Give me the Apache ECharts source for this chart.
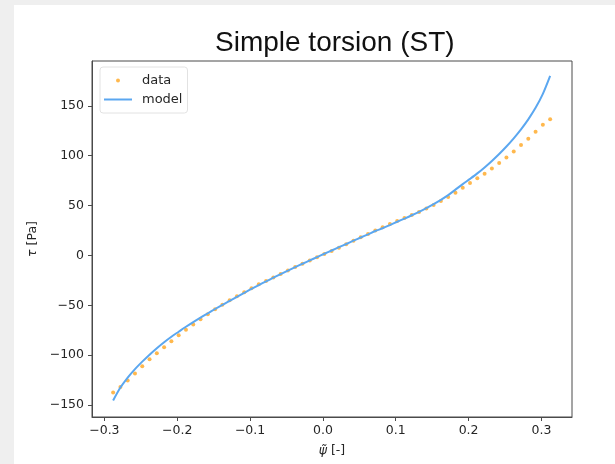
<!DOCTYPE html>
<html>
<head>
<meta charset="utf-8">
<script src="https://cdn.jsdelivr.net/npm/echarts@6/dist/echarts.min.js"></script>
<style>
  html, body { margin: 0; padding: 0; background: #efefef; }
  #chart { position: absolute; left: 14px; top: 5px; width: 601px; height: 459px; background: #fff; }
</style>
</head>
<body>
<div id="chart"></div>
<script>
// shear strain values (x)
var psiVals = [-0.288, -0.278, -0.268, -0.258, -0.248, -0.238, -0.228, -0.218, -0.208, -0.198,
  -0.188, -0.178, -0.168, -0.158, -0.148, -0.138, -0.128, -0.118, -0.108, -0.098,
  -0.088, -0.078, -0.068, -0.058, -0.048, -0.038, -0.028, -0.018, -0.008, 0.002,
  0.012, 0.022, 0.032, 0.042, 0.052, 0.062, 0.072, 0.082, 0.092, 0.102,
  0.112, 0.122, 0.132, 0.142, 0.152, 0.162, 0.172, 0.182, 0.192, 0.202,
  0.212, 0.222, 0.232, 0.242, 0.252, 0.262, 0.272, 0.282, 0.292, 0.302, 0.312];

// measured shear stress
var dataVals = [-137.5, -132, -125.5, -118.5, -111, -104, -98, -92, -86, -80,
  -74.5, -69.3, -64, -59, -54, -49.5, -45, -41, -37, -33,
  -29, -25.5, -22, -18.5, -15, -11.5, -8.3, -5, -1.8, 1.5,
  4.5, 7.8, 11.3, 14.8, 18.3, 21.6, 25, 28.3, 31.5, 34.5,
  37.5, 40.5, 43.5, 47, 50.5, 54.5, 58.5, 63, 68, 72.7,
  77.3, 82, 87.3, 92.7, 98.3, 104.3, 110.7, 117, 124, 131, 136.5];

// model curve
var modelVals = [-145.5, -132.5, -122.5, -114, -106.5, -99.5, -93, -87, -81.5, -76.5,
  -71.5, -66.8, -62.3, -58, -53.7, -49.5, -45.5, -41.5, -37.5, -33.5,
  -29.7, -26, -22.3, -18.7, -15.2, -11.7, -8.3, -5, -1.6, 1.7,
  5, 8.3, 11.5, 14.8, 18, 21.2, 24.5, 27.3, 30.5, 33.8,
  37, 40.3, 43.8, 47.5, 51.5, 55.8, 60.5, 66, 71.5, 76.8,
  82.3, 88.3, 94.8, 101.8, 109.3, 117.5, 126.5, 136.5, 148, 162, 180];

var xTicks = [-0.3, -0.2, -0.1, 0.0, 0.1, 0.2, 0.3];
var yTicks = [-150, -100, -50, 0, 50, 100, 150];

var chart = echarts.init(document.getElementById('chart'), null, {renderer: 'canvas'});

function fmtMinus(v, digits) {
  var s = digits ? Math.abs(v).toFixed(digits) : String(Math.abs(v));
  return (v < 0 ? '\u2212' : '') + s;
}

var axisFont = {fontFamily: 'DejaVu Sans', fontSize: 12.5, color: '#262626'};

var option = {
  animation: false,
  title: {
    text: 'Simple torsion (ST)',
    left: 196,
    top: 19,
    textStyle: {fontFamily: 'Liberation Sans', fontSize: 28, fontWeight: 'normal', color: '#111'}
  },
  legend: {
    left: 86,
    top: 62,
    orient: 'vertical',
    itemWidth: 28,
    itemHeight: 4,
    itemGap: 6,
    padding: [7, 5, 7, 4],
    backgroundColor: '#fff',
    borderColor: '#e2e2e2',
    borderWidth: 1,
    borderRadius: 3,
    textStyle: {fontFamily: 'DejaVu Sans', fontSize: 13, color: '#262626', padding: [0, 0, 0, 5]},
    data: [
      {name: 'data', icon: 'circle'},
      {name: 'model', icon: 'path://M0,0H28V2H0Z'}
    ]
  },
  grid: {
    left: 78, right: 43, top: 56, bottom: 47,
    show: true, borderColor: '#4a4a4a', borderWidth: 1, backgroundColor: 'transparent'
  },
  xAxis: {
    type: 'value',
    min: -0.317,
    max: 0.342,
    name: '{i|\u03C8\u0303} [-]',
    nameLocation: 'middle',
    nameGap: 27,
    nameTextStyle: {
      fontFamily: 'DejaVu Sans', fontSize: 12.5, color: '#262626',
      rich: {i: {fontFamily: 'DejaVu Sans', fontStyle: 'italic', fontSize: 12.5, color: '#262626'}}
    },
    axisLine: {show: true, onZero: false, lineStyle: {color: '#4a4a4a'}},
    axisTick: {show: true, length: 4, customValues: xTicks, lineStyle: {color: '#4a4a4a'}},
    axisLabel: Object.assign({margin: 7, customValues: xTicks, formatter: function (v) { return fmtMinus(v, 1); }}, axisFont),
    splitLine: {show: false}
  },
  yAxis: {
    type: 'value',
    min: -162,
    max: 195,
    name: '{i|\u03C4} [Pa]',
    nameLocation: 'middle',
    nameGap: 44,
    nameRotate: 90,
    nameTextStyle: {
      fontFamily: 'DejaVu Sans', fontSize: 12.5, color: '#262626',
      rich: {i: {fontFamily: 'DejaVu Sans', fontStyle: 'italic', fontSize: 12.5, color: '#262626'}}
    },
    axisLine: {show: true, onZero: false, lineStyle: {color: '#4a4a4a'}},
    axisTick: {show: true, length: 4, customValues: yTicks, lineStyle: {color: '#4a4a4a'}},
    axisLabel: Object.assign({margin: 8, customValues: yTicks, formatter: function (v) { return fmtMinus(v); }}, axisFont),
    splitLine: {show: false}
  },
  series: [
    {
      name: 'data',
      type: 'scatter',
      symbol: 'circle',
      symbolSize: 4,
      itemStyle: {color: '#ffa620'},
      data: psiVals.map(function (x, i) { return [x, dataVals[i]]; })
    },
    {
      name: 'model',
      type: 'line',
      showSymbol: false,
      symbol: 'none',
      smooth: 0.3,
      lineStyle: {color: '#5ba7f0', width: 2},
      itemStyle: {color: '#5ba7f0'},
      data: psiVals.map(function (x, i) { return [x, modelVals[i]]; })
    }
  ]
};

chart.setOption(option);
</script>
</body>
</html>
